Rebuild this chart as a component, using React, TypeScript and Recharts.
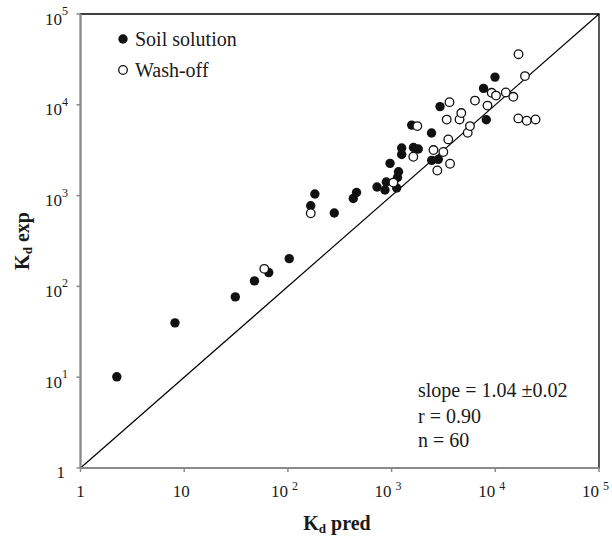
import {
  ReferenceArea,
  ReferenceLine,
  Scatter,
  ScatterChart,
  XAxis,
  YAxis,
} from "recharts";

// log-log axis ticks (Kd pred / Kd exp)
const TICKS = [1, 10, 100, 1000, 10000, 100000];

// Soil solution: predicted vs experimental Kd
const soilPred = [
  2.24, 8.15, 31.1, 47.6, 65.3, 103, 166, 182, 280, 427, 459, 723, 863, 889,
  1120, 1140, 1166, 966, 1251, 1251, 1563, 1626, 1808, 2427, 2930, 2437, 2820,
  7700, 8190, 9930,
];
const soilExp = [
  10.1, 39.7, 76.6, 115, 142, 202, 774, 1042, 644, 929, 1082, 1244, 1153, 1413,
  1213, 1581, 1832, 2265, 3340, 2833, 5980, 3383, 3259, 4886, 9550, 2445, 2507,
  15150, 6840, 20180,
];

// Wash-off: predicted vs experimental Kd
const washPred = [
  59.2, 166, 1040, 1770, 1620, 3615, 3400, 4520, 4700, 3520, 2535, 3155, 3660,
  2760, 5420, 5700, 6370, 8410, 9230, 10160, 12620, 14920, 19330, 16670, 20090,
  24430, 16750,
];
const washExp = [
  156, 639, 1390, 5830, 2680, 10700, 6870, 6900, 8110, 4160, 3175, 3020, 2244,
  1890, 4920, 5830, 11130, 9800, 13550, 12620, 13680, 12250, 20700, 7080, 6670,
  6900, 36100,
];

const soilData = soilPred.map((x, i) => ({ x, y: soilExp[i] }));
const washData = washPred.map((x, i) => ({ x, y: washExp[i] }));

const FONT = "'Liberation Serif', 'Times New Roman', serif";
const AXIS_GREY = "#8a8a8a";
const INK = "#111";
const txt = { fontFamily: FONT, fill: "#1a1a1a" };

const W = 612;
const H = 536;

const exponent = (v: number) => Math.round(Math.log10(v));

function XTick({ x, y, payload }: any) {
  const p = exponent(payload.value);
  if (p < 2) {
    return (
      <text x={p === 0 ? x : x - 3} y={y + 23} textAnchor="middle" fontSize={17} style={txt}>
        {p === 0 ? "1" : "10"}
      </text>
    );
  }
  return (
    <g>
      <text x={x} y={y + 23} textAnchor="end" fontSize={17} style={txt}>
        10
      </text>
      <text x={x + 4} y={y + 16} fontSize={12} style={txt}>
        {p}
      </text>
    </g>
  );
}

function YTick({ x, y, payload }: any) {
  const p = exponent(payload.value);
  if (p === 0) {
    return (
      <text x={x - 9.5} y={y + 10} textAnchor="end" fontSize={17} style={txt}>
        1
      </text>
    );
  }
  return (
    <g>
      <text x={x - 12.5} y={y + 10.5} textAnchor="end" fontSize={17} style={txt}>
        10
      </text>
      <text x={x - 12.5} y={y + 1} fontSize={12} style={txt}>
        {p}
      </text>
    </g>
  );
}

const filledDot = (props: any) => (
  <circle cx={props.cx} cy={props.cy} r={4.7} fill={INK} />
);
const openDot = (props: any) => (
  <circle cx={props.cx} cy={props.cy} r={4.3} fill="#fff" stroke={INK} strokeWidth={1.3} />
);

export default function App() {
  return (
    <div style={{ position: "relative", width: W, height: H }}>
      <style>{"body { margin: 0; overflow: hidden; }"}</style>
      <ScatterChart
        width={W}
        height={H}
        margin={{ top: 14, right: 13, bottom: 18, left: 20.5 }}
      >
        <ReferenceArea
          x1={1}
          x2={100000}
          y1={1}
          y2={100000}
          fill="none"
          stroke="#000"
          strokeWidth={1.3}
        />
        <XAxis
          type="number"
          dataKey="x"
          scale="log"
          domain={[1, 100000]}
          ticks={TICKS}
          allowDataOverflow
          height={50}
          tickSize={4}
          tickMargin={2}
          axisLine={{ stroke: AXIS_GREY, strokeWidth: 2 }}
          tickLine={{ stroke: AXIS_GREY, strokeWidth: 1.5 }}
          tick={<XTick />}
          interval={0}
        />
        <YAxis
          type="number"
          dataKey="y"
          scale="log"
          domain={[1, 100000]}
          ticks={TICKS}
          allowDataOverflow
          width={60}
          tickSize={4}
          tickMargin={2}
          axisLine={{ stroke: AXIS_GREY, strokeWidth: 2 }}
          tickLine={{ stroke: AXIS_GREY, strokeWidth: 1.5 }}
          tick={<YTick />}
          interval={0}
        />
        {/* 1:1 line */}
        <ReferenceLine
          segment={[
            { x: 1, y: 1 },
            { x: 100000, y: 100000 },
          ]}
          stroke="#000"
          strokeWidth={1.2}
        />
        <Scatter data={soilData} shape={filledDot} isAnimationActive={false} />
        <Scatter data={washData} shape={openDot} isAnimationActive={false} />
      </ScatterChart>

      <svg
        width={W}
        height={H}
        style={{ position: "absolute", left: 0, top: 0, pointerEvents: "none" }}
      >
        {/* legend */}
        <circle cx={123} cy={39} r={4.7} fill={INK} />
        <text x={135} y={45.5} fontSize={20} style={txt}>
          Soil solution
        </text>
        <circle cx={123} cy={70} r={4.3} fill="#fff" stroke={INK} strokeWidth={1.3} />
        <text x={135} y={77} fontSize={20} style={txt}>
          Wash-off
        </text>

        {/* regression summary */}
        <text x={418} y={397} fontSize={20} style={txt}>
          slope = 1.04 ±0.02
        </text>
        <text x={418} y={423} fontSize={20} style={txt}>
          r = 0.90
        </text>
        <text x={418} y={447} fontSize={20} style={txt}>
          n = 60
        </text>

        {/* axis titles */}
        <text x={337} y={530} textAnchor="middle" fontSize={20} fontWeight="bold" style={txt}>
          K<tspan fontSize={13} dy={3}>d</tspan>
          <tspan dy={-3}> pred</tspan>
        </text>
        <text
          x={28.5}
          y={241}
          textAnchor="middle"
          fontSize={20}
          fontWeight="bold"
          style={txt}
          transform="rotate(-90 28.5 241)"
        >
          K<tspan fontSize={13} dy={3}>d</tspan>
          <tspan dy={-3}> exp</tspan>
        </text>
      </svg>
    </div>
  );
}
